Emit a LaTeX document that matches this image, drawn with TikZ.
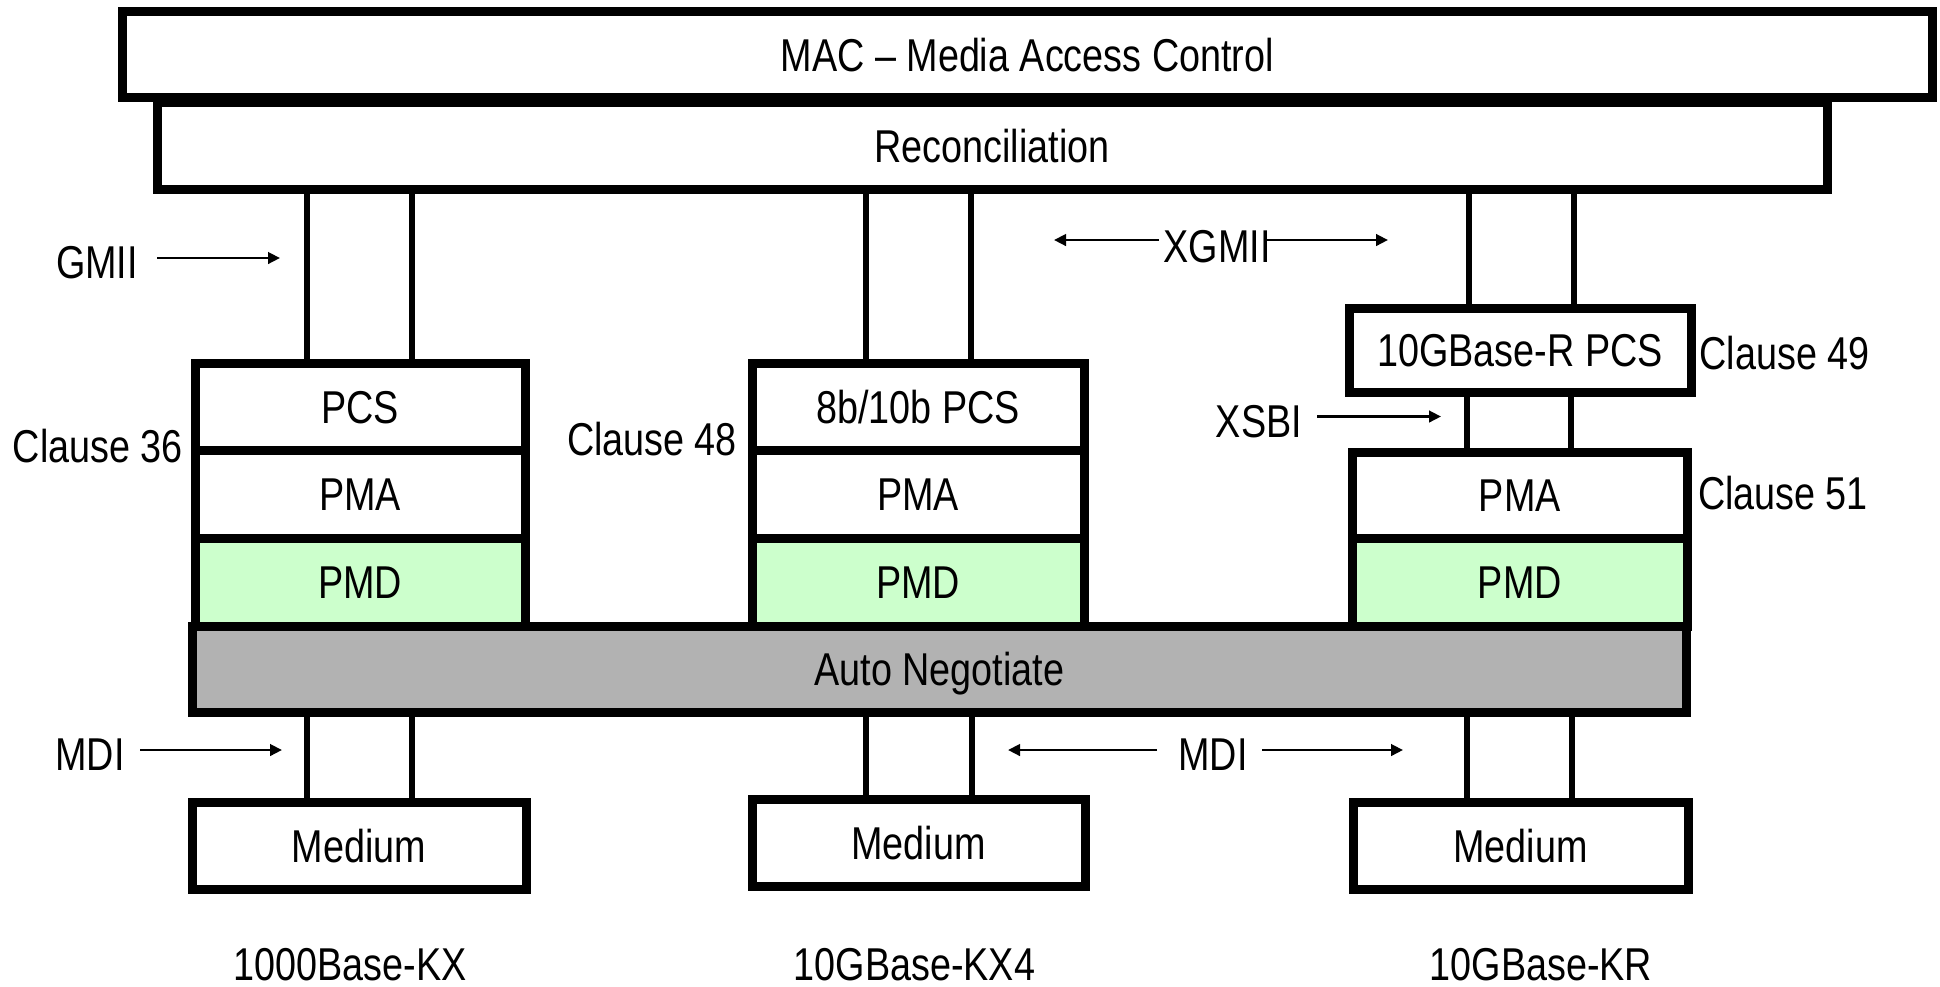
\documentclass[tikz,border=0pt]{standalone}
\usepackage{fontspec}
\setmainfont[FakeStretch=0.82]{Liberation Sans}
\usetikzlibrary{arrows.meta}

\definecolor{pmdgreen}{RGB}{204,255,204}
\definecolor{angray}{RGB}{178,178,178}

\tikzset{
  layer/.style={draw=black, line width=0.09cm, fill=white, inner sep=0pt,
    text height=0.33cm, text depth=0pt},
  pmdlayer/.style={layer, fill=pmdgreen},
  anlayer/.style={layer, fill=angray},
  lbl/.style={inner sep=0pt, text height=0.33cm, text depth=0pt},
  bus/.style={draw=black, line width=0.06cm},
  arr/.style={draw=black, line width=0.027cm,
    -{Triangle[length=0.12cm, width=0.115cm]}},
}

\begin{document}
\begin{tikzpicture}[font=\fontsize{13.1pt}{15pt}\selectfont]
\useasboundingbox (0,0) rectangle (19.4,-9.86);

% upper shared layers
\node[layer, minimum width=18.105cm, minimum height=0.86cm] (mac) at (10.2725,-0.545) {MAC – Media Access Control};
\node[layer, minimum width=16.70cm, minimum height=0.865cm] (recon) at (9.92,-1.4575) {Reconciliation};

% 1000Base-KX stack
\node[layer, minimum width=3.30cm, minimum height=0.87cm] (pcs1) at (3.60,-4.065) {PCS};
\node[layer, minimum width=3.30cm, minimum height=0.88cm] (pma1) at (3.60,-4.94) {PMA};
\node[pmdlayer, minimum width=3.30cm, minimum height=0.88cm] (pmd1) at (3.60,-5.82) {PMD};

% 10GBase-KX4 stack
\node[layer, minimum width=3.325cm, minimum height=0.87cm] (pcs2) at (9.1825,-4.065) {8b/10b PCS};
\node[layer, minimum width=3.325cm, minimum height=0.88cm] (pma2) at (9.1825,-4.94) {PMA};
\node[pmdlayer, minimum width=3.325cm, minimum height=0.88cm] (pmd2) at (9.1825,-5.82) {PMD};

% 10GBase-KR stack
\node[layer, minimum width=3.42cm, minimum height=0.845cm] (pcs3) at (15.20,-3.5025) {10GBase-R PCS};
\node[layer, minimum width=3.345cm, minimum height=0.86cm] (pma3) at (15.1975,-4.95) {PMA};
\node[pmdlayer, minimum width=3.345cm, minimum height=0.88cm] (pmd3) at (15.1975,-5.82) {PMD};

% auto negotiation
\node[anlayer, minimum width=14.945cm, minimum height=0.865cm] (an) at (9.3925,-6.6925) {Auto Negotiate};

% media
\node[layer, minimum width=3.34cm, minimum height=0.865cm] (med1) at (3.59,-8.4575) {Medium};
\node[layer, minimum width=3.33cm, minimum height=0.87cm] (med2) at (9.185,-8.425) {Medium};
\node[layer, minimum width=3.35cm, minimum height=0.865cm] (med3) at (15.205,-8.4575) {Medium};

% interface buses
\draw[bus] (recon.south -| 3.07,0) -- (pcs1.north -| 3.07,0);
\draw[bus] (recon.south -| 4.12,0) -- (pcs1.north -| 4.12,0);
\draw[bus] (recon.south -| 8.66,0) -- (pcs2.north -| 8.66,0);
\draw[bus] (recon.south -| 9.71,0) -- (pcs2.north -| 9.71,0);
\draw[bus] (recon.south -| 14.69,0) -- (pcs3.north -| 14.69,0);
\draw[bus] (recon.south -| 15.74,0) -- (pcs3.north -| 15.74,0);
\draw[bus] (pcs3.south -| 14.67,0) -- (pma3.north -| 14.67,0);
\draw[bus] (pcs3.south -| 15.71,0) -- (pma3.north -| 15.71,0);
\draw[bus] (an.south -| 3.07,0) -- (med1.north -| 3.07,0);
\draw[bus] (an.south -| 4.12,0) -- (med1.north -| 4.12,0);
\draw[bus] (an.south -| 8.66,0) -- (med2.north -| 8.66,0);
\draw[bus] (an.south -| 9.715,0) -- (med2.north -| 9.715,0);
\draw[bus] (an.south -| 14.67,0) -- (med3.north -| 14.67,0);
\draw[bus] (an.south -| 15.72,0) -- (med3.north -| 15.72,0);

% interface and clause labels
\node[lbl] (gmii) at (0.97,-2.62) {GMII};
\node[lbl] (xgmii) at (12.17,-2.455) {XGMII};
\node[lbl] (xsbi) at (12.59,-4.21) {XSBI};
\node[lbl] (mdi1) at (0.90,-7.54) {MDI};
\node[lbl] (mdi2) at (12.13,-7.54) {MDI};
\node[lbl] (cl36) at (0.98,-4.46) {Clause 36};
\node[lbl] (cl48) at (6.52,-4.39) {Clause 48};
\node[lbl] (cl49) at (17.845,-3.525) {Clause 49};
\node[lbl] (cl51) at (17.83,-4.925) {Clause 51};

% PHY type names
\node[lbl] (kx) at (3.50,-9.64) {1000Base-KX};
\node[lbl] (kx4) at (9.145,-9.64) {10GBase-KX4};
\node[lbl] (kr) at (15.41,-9.64) {10GBase-KR};

% arrow end points
\coordinate (gmiiS) at (1.57,-2.58);
\coordinate (gmiiT) at (2.80,-2.58);
\coordinate (xgLS) at (11.59,-2.40);
\coordinate (xgLT) at (10.54,-2.40);
\coordinate (xgRS) at (12.64,-2.40);
\coordinate (xgRT) at (13.88,-2.40);
\coordinate (xsbiS) at (13.17,-4.165);
\coordinate (xsbiT) at (14.41,-4.165);
\coordinate (mdi1S) at (1.40,-7.50);
\coordinate (mdi1T) at (2.82,-7.50);
\coordinate (mdiLS) at (11.57,-7.50);
\coordinate (mdiLT) at (10.08,-7.50);
\coordinate (mdiRS) at (12.62,-7.50);
\coordinate (mdiRT) at (14.03,-7.50);

\draw[arr] (gmiiS) -- (gmiiT);
\draw[arr] (xgLS) -- (xgLT);
\draw[arr] (xgRS) -- (xgRT);
\draw[arr] (xsbiS) -- (xsbiT);
\draw[arr] (mdi1S) -- (mdi1T);
\draw[arr] (mdiLS) -- (mdiLT);
\draw[arr] (mdiRS) -- (mdiRT);
\end{tikzpicture}
\end{document}
